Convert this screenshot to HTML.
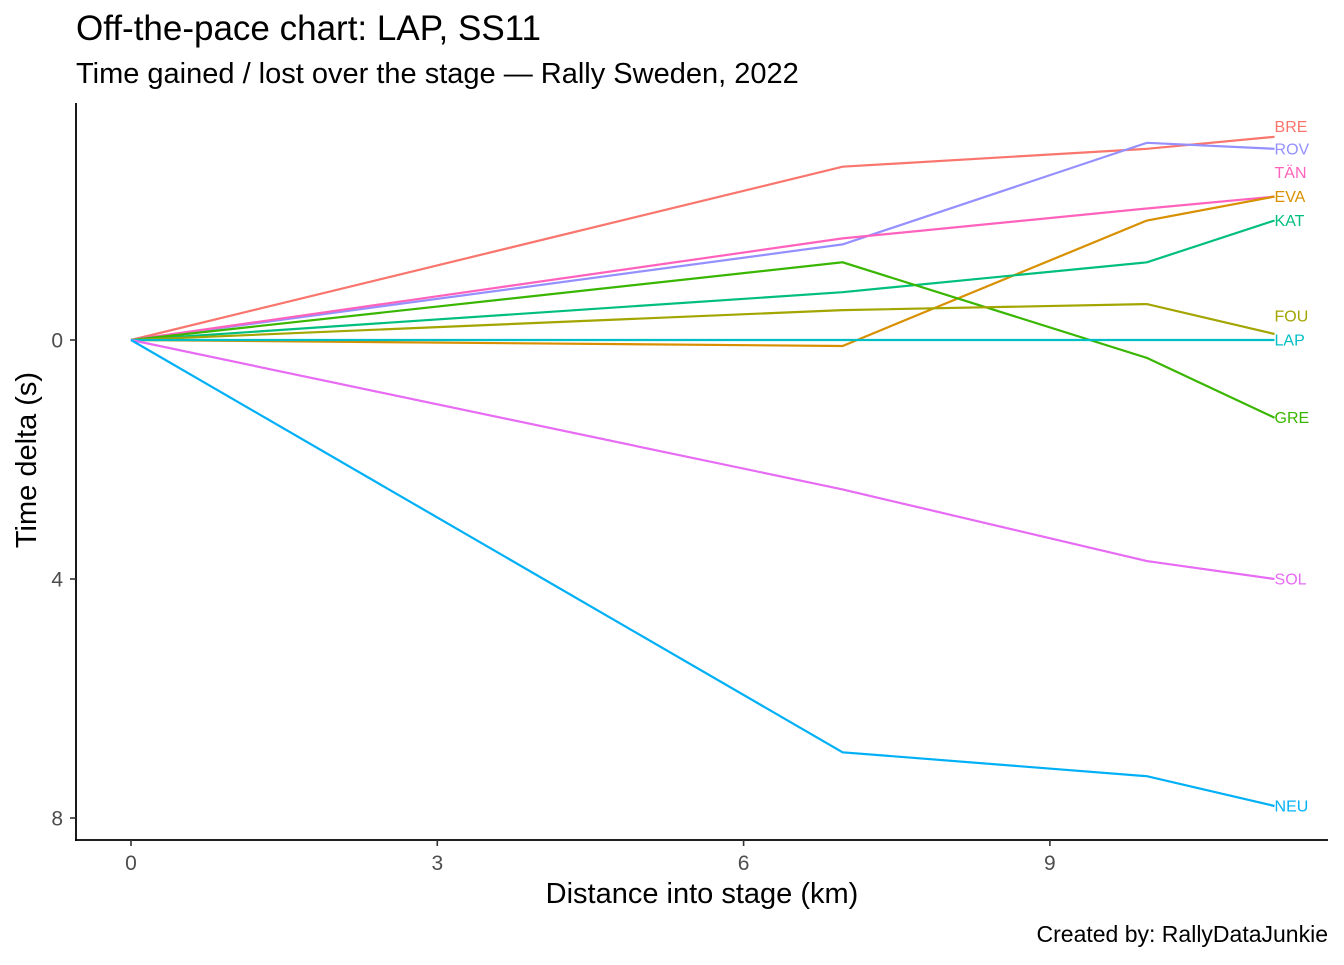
<!DOCTYPE html>
<html><head><meta charset="utf-8">
<style>
body{margin:0;background:#fff;font-family:"Liberation Sans",Arial,sans-serif;}
svg text{font-family:"Liberation Sans",Arial,sans-serif;}
</style></head>
<body>
<svg id="chart" width="1344" height="960" viewBox="0 0 1344 960" xmlns="http://www.w3.org/2000/svg">
<rect width="1344" height="960" fill="#fff"/>
<text x="76" y="40" font-size="35" fill="#000">Off-the-pace chart: LAP, SS11</text>
<text x="76" y="83" font-size="29" fill="#000">Time gained / lost over the stage — Rally Sweden, 2022</text>
<text x="702" y="903" font-size="29" text-anchor="middle" fill="#000">Distance into stage (km)</text>
<text transform="translate(36,460) rotate(-90)" font-size="29" text-anchor="middle" fill="#000">Time delta (s)</text>
<text x="1328" y="942" font-size="23" text-anchor="end" fill="#000">Created by: RallyDataJunkie</text>
<g id="plot"></g>
</svg>
<script>
const distances = [0, 6.97, 9.95, 11.2];
const drivers = ["BRE","ROV","TÄN","EVA","KAT","GRE","FOU","LAP","SOL","NEU"];
const BRE = [0, -2.9, -3.2, -3.4];
const ROV = [0, -1.6, -3.3, -3.2];
const TAN = [0, -1.7, -2.2, -2.4];
const EVA = [0, 0.1, -2.0, -2.4];
const KAT = [0, -0.8, -1.3, -2.0];
const GRE = [0, -1.3, 0.3, 1.3];
const FOU = [0, -0.5, -0.6, -0.1];
const LAP = [0, 0, 0, 0];
const SOL = [0, 2.5, 3.7, 4.0];
const NEU = [0, 6.9, 7.3, 7.8];
const labelValues = [-3.57, -3.2, -2.8, -2.4, -2.0, 1.3, -0.4, 0, 4.0, 7.8];
const xTicks = [0, 3, 6, 9];
const yTicks = [0, 4, 8];

const series = [BRE, ROV, TAN, EVA, KAT, GRE, FOU, LAP, SOL, NEU];
const colors = ["#F8766D","#9590FF","#FF62BC","#D89000","#00BF7D","#39B600","#A3A500","#00BFC4","#E76BF3","#00B0F6"];
const NS = "http://www.w3.org/2000/svg";
const g = document.getElementById("plot");
const xScale = v => 131 + v * 102.1;
const yScale = v => 340 + v * 59.75;
function mk(tag, attrs){const e=document.createElementNS(NS,tag);for(const k in attrs)e.setAttribute(k,attrs[k]);g.appendChild(e);return e;}

let ax = mk("line",{x1:76,y1:103,x2:76,y2:841,stroke:"#000","stroke-width":1.8});


ax = mk("line",{x1:75,y1:840,x2:1328,y2:840,stroke:"#000","stroke-width":1.8});



xTicks.forEach(t=>{
  const x = xScale(t);
  const tk = mk("line",{x1:x,y1:840,x2:x,y2:846,stroke:"#333","stroke-width":1.6});
  
  
  const tl = mk("text",{x:x,y:870,"font-size":21,"text-anchor":"middle",fill:"#4d4d4d"});
  
  
  tl.textContent = t;
});
yTicks.forEach(t=>{
  const y = yScale(t);
  const tk = mk("line",{x1:70,y1:y,x2:76,y2:y,stroke:"#333","stroke-width":1.6});
  
  
  const tl = mk("text",{x:63,y:y+7.5,"font-size":21,"text-anchor":"end",fill:"#4d4d4d"});
  
  
  tl.textContent = t;
});

series.forEach((s,i)=>{
  const pts = s.map((v,j)=>xScale(distances[j]).toFixed(1)+","+yScale(v).toFixed(1)).join(" ");
  const pl = mk("polyline",{points:pts,fill:"none",stroke:colors[i],"stroke-width":2.2});
  
  
});
series.forEach((s,i)=>{
  const lx = xScale(distances[distances.length-1]);
  const t = mk("text",{x:lx,y:yScale(labelValues[i])+5.5,"font-size":16,fill:colors[i]});
  
  
  t.textContent = drivers[i];
});
</script>
</body></html>
